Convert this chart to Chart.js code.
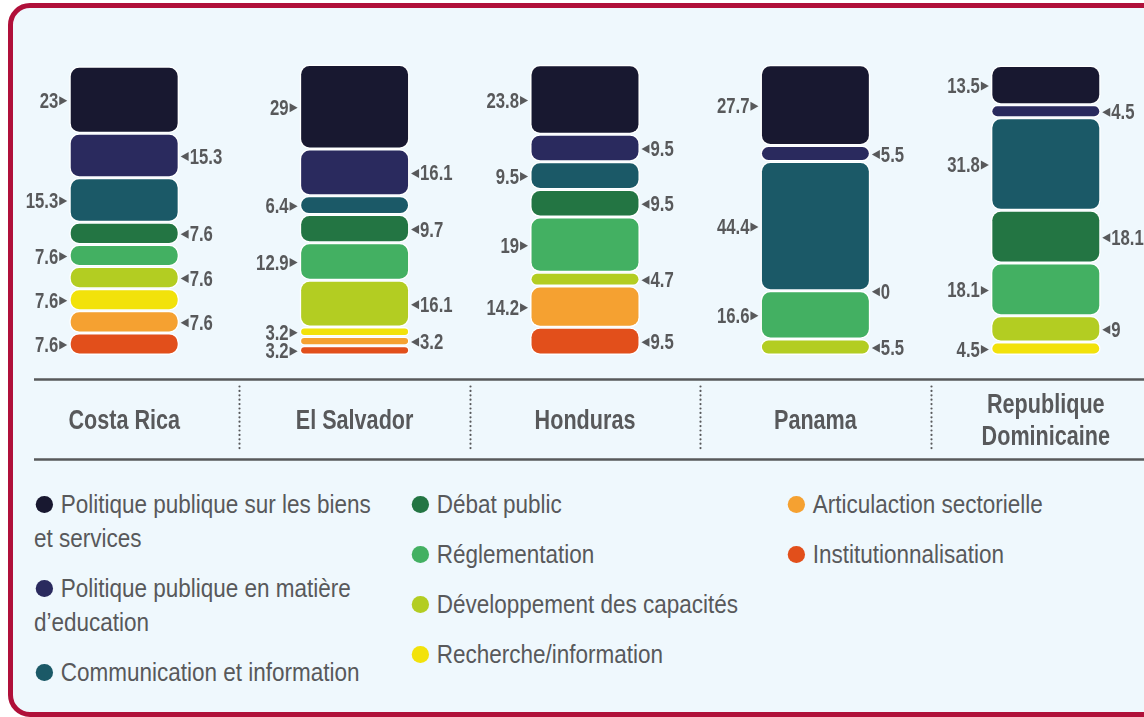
<!DOCTYPE html>
<html lang="fr">
<head>
  <meta charset="UTF-8" />
  <title>Types d'actions par pays</title>
  <script src="https://cdn.jsdelivr.net/npm/chart.js"></script>
  <style>
    html, body {
      margin: 0;
      padding: 0;
      width: 1144px;
      height: 717px;
      overflow: hidden;
      background: #fff;
      font-family: "Liberation Sans", Arial, sans-serif;
    }
    /* cadre */
    .frame {
      position: absolute;
      left: 8px;
      top: 3px;
      width: 1200px;
      height: 704px;
      border: 5px solid #b0103a;
      border-radius: 22px;
      background: #eff8fd;
    }
    .chart-box {
      position: absolute;
      left: 9px;
      top: 0;
      width: 1152px;
      height: 470px;
    }
    /* legende (texte resserre horizontalement, comme une police condensee) */
    .legend {
      position: absolute;
      top: 487px;
      left: 0;
      color: #58595b;
      font-size: 26px;
      line-height: 34px;
    }
    .legend .col {
      position: absolute;
      top: 0;
      transform: scaleX(0.865);
      transform-origin: 0 0;
    }
    .legend .item {
      margin-bottom: 16px;
    }
    .legend .dot {
      display: inline-block;
      width: 19.7px;
      height: 17px;
      border-radius: 50%;
      margin: 0 9px 0 2.3px;
    }
  </style>
</head>
<body>
  <div class="frame"></div>
  <div class="chart-box"><canvas id="chart"></canvas></div>
  <div class="legend" id="legend"></div>

  <script>
    const FONT = '"Liberation Sans", Arial, sans-serif';
    const GREY = '#58595b';
    const SQUEEZE = 0.865;

    // pays
    const countries = ['Costa Rica', 'El Salvador', 'Honduras', 'Panama', ['Republique', 'Dominicaine']];

    // types d'action (ordre de haut en bas dans les colonnes)
    const actionNames = [
      'Politique publique sur les biens et services',
      'Politique publique en matière d\u2019education',
      'Communication et information',
      'Débat public',
      'Réglementation',
      'Développement des capacités',
      'Recherche/information',
      'Articulaction sectorielle',
      'Institutionnalisation'
    ];
    const actionColors = ['#181830', '#2a2a5e', '#1b5967', '#237543', '#43b062', '#b3cd22', '#f2e20b', '#f5a131', '#e24f1b'];

    // valeurs (%) par pays
    const biens          = [23,   29,   23.8, 27.7, 13.5];
    const education      = [15.3, 16.1, 9.5,  5.5,  4.5];
    const communication  = [15.3, 6.4,  9.5,  44.4, 31.8];
    const debat          = [7.6,  9.7,  9.5,  0,    18.1];
    const reglementation = [7.6,  12.9, 19,   16.6, 18.1];
    const developpement  = [7.6,  16.1, 4.7,  5.5,  9];
    const recherche      = [7.6,  3.2,  null, null, 4.5];
    const articulation   = [7.6,  3.2,  14.2, null, null];
    const institution    = [7.6,  3.2,  9.5,  null, null];

    const series = [biens, education, communication, debat, reglementation,
                    developpement, recherche, articulation, institution];

    // Chart.js empile du bas vers le haut : on inverse l'ordre
    const datasets = series.map((data, i) => ({
      label: actionNames[i],
      data: data,
      backgroundColor: actionColors[i],
      borderColor: '#ffffff',
      borderWidth: ctx => (ctx.raw ? 1.5 : 0),
      borderRadius: { topLeft: 10, topRight: 10, bottomLeft: 10, bottomRight: 10 },
      borderSkipped: false
    })).reverse();

    // texte resserre horizontalement
    function squeezedText(ctx, text, x, y, align, sx) {
      ctx.save();
      ctx.translate(x, y);
      ctx.scale(sx, 1);
      ctx.textAlign = align;
      ctx.fillText(text, 0, 0);
      ctx.restore();
    }

    // etiquettes de valeurs avec petit triangle, alternees gauche/droite
    const valueLabels = {
      id: 'valueLabels',
      afterDatasetsDraw(chart) {
        const ctx = chart.ctx;
        ctx.save();
        ctx.font = 'bold 22px ' + FONT;
        ctx.fillStyle = GREY;
        ctx.textBaseline = 'middle';
        chart.data.labels.forEach((lab, i) => {
          let n = 0;
          // du haut vers le bas
          for (let d = chart.data.datasets.length - 1; d >= 0; d--) {
            const v = chart.data.datasets[d].data[i];
            if (v === null || v === undefined) continue;
            const bar = chart.getDatasetMeta(d).data[i];
            const p = bar.getProps(['x', 'y', 'base', 'width'], true);
            const cy = (p.y + p.base) / 2 + 1;
            const left = n % 2 === 0;
            n++;
            const edge = left ? p.x - p.width / 2 - 2 : p.x + p.width / 2 + 1.5;
            const dir = left ? -1 : 1;
            ctx.beginPath();
            ctx.moveTo(edge, cy);
            ctx.lineTo(edge + dir * 8, cy - 4.5);
            ctx.lineTo(edge + dir * 8, cy + 4.5);
            ctx.closePath();
            ctx.fill();
            squeezedText(ctx, String(v), edge + dir * 9, cy + 1, left ? 'right' : 'left', 0.76);
          }
        });
        ctx.restore();
      }
    };

    // bande des pays : deux traits, separateurs pointilles, noms
    const countryBand = {
      id: 'countryBand',
      afterDraw(chart) {
        const ctx = chart.ctx;
        const x = chart.scales.x;
        const top = chart.chartArea.bottom + 24.5;
        const bottom = top + 80;
        ctx.save();
        ctx.strokeStyle = GREY;
        ctx.lineWidth = 2.5;
        ctx.beginPath();
        ctx.moveTo(25, top);
        ctx.lineTo(chart.width, top);
        ctx.moveTo(25, bottom);
        ctx.lineTo(chart.width, bottom);
        ctx.stroke();

        ctx.lineWidth = 2.2;
        ctx.lineCap = 'round';
        ctx.setLineDash([0, 4.4]);
        for (let i = 0; i < countries.length - 1; i++) {
          const sx = Math.round((x.getPixelForValue(i) + x.getPixelForValue(i + 1)) / 2) + 0.5;
          ctx.beginPath();
          ctx.moveTo(sx, top + 7);
          ctx.lineTo(sx, bottom - 7);
          ctx.stroke();
        }
        ctx.setLineDash([]);

        ctx.fillStyle = GREY;
        ctx.font = 'bold 27px ' + FONT;
        ctx.textBaseline = 'middle';
        countries.forEach((c, i) => {
          const cx = x.getPixelForValue(i);
          const lines = Array.isArray(c) ? c : [c];
          const mid = (top + bottom) / 2 + 2;
          lines.forEach((t, k) => {
            squeezedText(ctx, t, cx, mid + (k - (lines.length - 1) / 2) * 32, 'center', 0.8);
          });
        });
        ctx.restore();
      }
    };

    new Chart(document.getElementById('chart'), {
      type: 'bar',
      data: { labels: countries, datasets: datasets },
      options: {
        responsive: true,
        maintainAspectRatio: false,
        animation: false,
        barPercentage: 0.477,
        categoryPercentage: 1,
        layout: { padding: { top: 64, bottom: 115, left: 0, right: 0 } },
        plugins: {
          legend: { display: false },
          tooltip: { enabled: false }
        },
        scales: {
          x: { stacked: true, display: false },
          y: { stacked: true, display: false, min: 0, max: 100 }
        }
      },
      plugins: [valueLabels, countryBand]
    });

    // legende HTML en trois colonnes
    const legendCols = [[0, 1, 2], [3, 4, 5, 6], [7, 8]];
    const colLeft = [34, 410, 786];
    const colWidth = [356, 370, 340];
    const legend = document.getElementById('legend');
    legendCols.forEach((idx, c) => {
      const col = document.createElement('div');
      col.className = 'col';
      col.style.left = colLeft[c] + 'px';
      col.style.width = (colWidth[c] / SQUEEZE) + 'px';
      idx.forEach(i => {
        const item = document.createElement('div');
        item.className = 'item';
        const dot = document.createElement('span');
        dot.className = 'dot';
        dot.style.background = actionColors[i];
        item.appendChild(dot);
        item.appendChild(document.createTextNode(actionNames[i]));
        col.appendChild(item);
      });
      legend.appendChild(col);
    });
  </script>
</body>
</html>
